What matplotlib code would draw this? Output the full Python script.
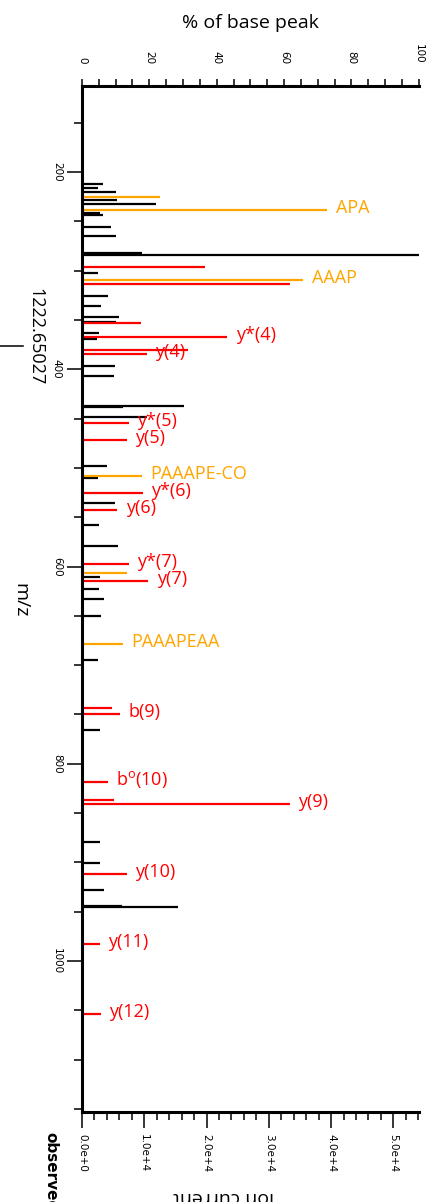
import numpy as np
import matplotlib
matplotlib.use("Agg")
import matplotlib.pyplot as plt
from matplotlib.ticker import MultipleLocator, FixedLocator, FuncFormatter
from matplotlib.lines import Line2D

plt.rcParams['font.family'] = ['DejaVu Sans']
plt.rcParams['mathtext.fontset'] = 'custom'
plt.rcParams['mathtext.rm'] = 'Open Sans'

# peaks: m/z, % of base peak
mz_black = [212.5, 216.5, 220.6, 228.7, 232.4, 241.9, 243.6, 255.8, 264.9, 281.8,
            283.9, 302.7, 325.7, 335.9, 347.5, 351.8, 363.2, 369.3, 397.0, 406.8,
            437.3, 438.6, 448.8, 497.8, 510.0, 535.6, 557.9, 579.2, 610.3, 622.8,
            633.2, 649.8, 694.8, 765.5, 879.6, 900.6, 927.6, 943.9, 945.2]
pct_black = [6.1, 4.9, 10.0, 10.5, 21.9, 5.3, 6.1, 8.5, 10.1, 17.7,
             100.0, 4.9, 7.8, 5.5, 11.0, 10.0, 5.1, 4.4, 9.8, 9.4,
             30.2, 12.3, 19.2, 7.3, 4.8, 9.8, 5.1, 10.8, 5.3, 5.0,
             6.4, 5.6, 4.8, 5.3, 5.3, 5.3, 6.4, 11.8, 28.4]

mz_red = [296.6, 313.6, 352.8, 367.6, 380.5, 384.6, 454.9, 471.7, 525.4, 542.7,
          597.4, 615.0, 743.5, 749.6, 818.5, 836.8, 840.5, 911.8, 983.1, 1054.0]
pct_red = [36.5, 61.8, 17.4, 43.2, 31.5, 19.3, 13.9, 13.3, 18.0, 10.5,
           14.0, 19.7, 8.8, 11.3, 7.6, 9.6, 61.7, 13.4, 5.4, 5.6]

mz_orange = [225.7, 238.8, 309.5, 508.0, 606.9, 678.6]
pct_orange = [23.1, 72.9, 65.7, 17.9, 13.3, 12.1]

# annotated peaks
label_text = ['APA', 'AAAP', 'y*(4)', 'y(4)', 'y*(5)', 'y(5)', 'PAAAPE-CO', 'y*(6)',
              'y(6)', 'y*(7)', 'y(7)', 'PAAAPEAA', 'b(9)', 'b$^{\\rm o}$(10)', 'y(9)',
              'y(10)', 'y(11)', 'y(12)']
label_mz = [238.8, 309.5, 367.6, 384.6, 454.9, 471.7, 508.0, 525.4,
            542.7, 597.4, 615.0, 678.6, 749.6, 818.5, 840.5,
            911.8, 983.1, 1054.0]
label_pct = [72.9, 65.7, 43.2, 19.3, 13.9, 13.3, 17.9, 18.0,
             10.5, 14.0, 19.7, 12.1, 11.3, 7.6, 61.7,
             13.4, 5.4, 5.6]
label_kind = ['o', 'o', 'r', 'r', 'r', 'r', 'o', 'r',
              'r', 'r', 'r', 'o', 'r', 'r', 'r',
              'r', 'r', 'r']

base_peak = 54080.0  # ion current of the 100% peak
current_ticks = [0, 10000, 20000, 30000, 40000, 50000]
RED = '#ff0000'
ORANGE = '#ffa500'

fig = plt.figure(figsize=(4.37, 12.02), dpi=100)
ax = fig.add_axes([0.1876, 0.0749, 0.7706, 0.8536])

ax.hlines(mz_black, 0, pct_black, colors='black', lw=1.6)
ax.hlines(mz_orange, 0, pct_orange, colors=ORANGE, lw=1.6)
ax.hlines(mz_red, 0, pct_red, colors=RED, lw=1.6)

for t, m, p, k in zip(label_text, label_mz, label_pct, label_kind):
    ax.annotate(t, (p, m), xytext=(6, 1.5), textcoords='offset points',
                ha='left', va='center', fontsize=13, family='Open Sans',
                color=ORANGE if k == 'o' else RED)

ax.set_xlim(0, 100)
ax.set_ylim(1153, 112.8)

for s in ['right', 'bottom']:
    ax.spines[s].set_visible(False)
for s in ['top', 'left']:
    ax.spines[s].set_linewidth(2.2)
    ax.spines[s].set_capstyle('projecting')

# top axis: % of base peak
ax.xaxis.tick_top()
ax.xaxis.set_major_locator(MultipleLocator(20))
ax.xaxis.set_minor_locator(MultipleLocator(5))
ax.tick_params(axis='x', which='both', direction='out', length=5, width=1.1,
               pad=11, labelsize=7.5, labelrotation=-90)

# left axis: m/z
ax.yaxis.set_major_locator(MultipleLocator(200))
ax.yaxis.set_minor_locator(MultipleLocator(50))
ax.tick_params(axis='y', which='major', direction='out', length=11, width=1.1,
               pad=3.5, labelsize=7.5, labelrotation=-90)
ax.tick_params(axis='y', which='minor', direction='out', length=5.8, width=1.1)
for lab in ax.get_yticklabels():
    lab.set_verticalalignment('center')

# bottom axis: ion current
sec = ax.secondary_xaxis('bottom', functions=(lambda p: p * base_peak / 100.0,
                                              lambda v: v * 100.0 / base_peak))
sec.xaxis.set_major_locator(FixedLocator(current_ticks))
sec.xaxis.set_minor_locator(FixedLocator(np.arange(0, base_peak, 2000)))


def sci(v, pos):
    m, e = '{:.1e}'.format(v).split('e')
    return '{}e{:+d}'.format(m, int(e))


sec.xaxis.set_major_formatter(FuncFormatter(sci))
sec.tick_params(axis='x', which='major', direction='out', length=11.5, width=1.1,
                pad=4.5, labelsize=7.5, labelrotation=-90)
sec.tick_params(axis='x', which='minor', direction='out', length=5.8, width=1.1)
sec.spines['bottom'].set_linewidth(2.2)
sec.spines['bottom'].set_capstyle('projecting')

H = 1202.0
fig.text(250 / 437, 1 - 23 / H, '% of base peak', ha='center', va='center',
         fontsize=14, family='Open Sans')
fig.text(224 / 437, 1 - 1188 / H, 'ion current', ha='center', va='top',
         rotation=180, fontsize=14, family='Open Sans')
fig.text(20 / 437, 1 - 600 / H, 'm/z', ha='center', va='center',
         rotation=-90, fontsize=14, family='Open Sans')
fig.text(35 / 437, 1 - 337 / H, '1222.65027', ha='center', va='center',
         rotation=-90, fontsize=13, family='Open Sans')
fig.add_artist(Line2D([0, 23 / 437], [1 - 346 / H, 1 - 346 / H],
                      transform=fig.transFigure, color='black', lw=1.1))
fig.text(51 / 437, 1 - 1132 / H, 'observed', ha='center', va='top',
         rotation=-90, fontsize=11, fontweight='bold')

fig.savefig('out.png', dpi=100)
